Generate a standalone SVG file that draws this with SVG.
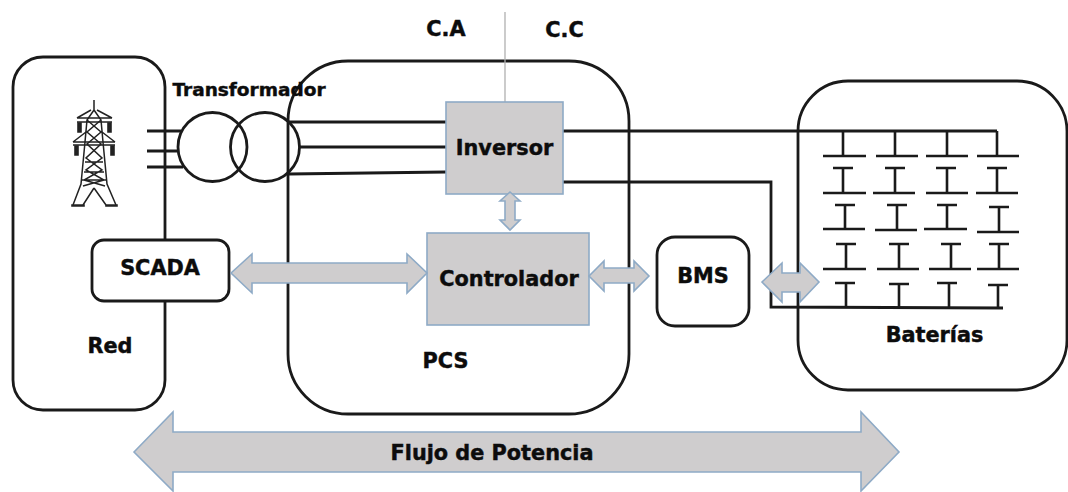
<svg xmlns="http://www.w3.org/2000/svg" width="1068" height="492" viewBox="0 0 1068 492">
<style>
text{font-family:"DejaVu Sans","Liberation Sans",sans-serif;font-weight:700;fill:#0c0c0c;stroke:#0c0c0c;stroke-width:.45;text-anchor:middle;font-size:20.8px}
.s{font-size:18.500px}
.box{fill:#fff;stroke:#1a1a1a;stroke-width:2.8}
.frame{fill:none;stroke:#1a1a1a;stroke-width:2.8}
.block{fill:#cfcdce;stroke:#8eaac6;stroke-width:1.6}
.arrow{fill:#cfcdce;stroke:#8eaac6;stroke-width:1.6;stroke-linejoin:miter}
.w{fill:none;stroke:#1a1a1a;stroke-width:2.8}
.c{fill:none;stroke:#1a1a1a;stroke-width:2.6}
.tw{fill:none;stroke:#222;stroke-width:1.5}
.tw2{fill:#222;stroke:#222;stroke-width:1.6}
</style>
<g id="red"><rect class="frame" x="13" y="57" width="152" height="353" rx="30"/><text x="110" y="353">Red</text></g>
<g id="pcs"><rect class="frame" x="288" y="61" width="341" height="353" rx="60"/><text x="445.500" y="368">PCS</text></g>
<g id="baterias"><rect class="frame" x="798" y="81" width="269" height="309" rx="50"/><text x="934.500" y="342">Baterías</text></g>
<g id="torre">
<path class="tw" d="M94 100V110M94 110L87 120L85 142L81 184L73 205M94 110L101 120L103 142L107 184L116 205M94 188L83 205M94 188L106 205M87 120L101 132L87 144L102 158L86 170L104 180L83 186M101 120L87 132L101 144L86 158L102 170L84 180L105 186M85 162H103M84 172H104M82 180H106"/>
<path class="tw" d="M77 118L91 110M112 118L97 110M77 118H112M77 122H112M73 142L86 132M115 142L102 132M73 142H115M73 145H115"/>
<path class="tw2" d="M78 123h3v9h-3zM108 123h3v9h-3zM75 146h3v9h-3zM111 146h3v9h-3z"/>
<path class="tw2" d="M72 205h12v1h-12zM106 205h11v1h-11z"/>
</g>
<g id="connectors">
<path class="c" d="M505 12V102" style="stroke:#b0b0b0;stroke-width:1.3"/>
<path class="w" d="M147 131H181M147 151H178M147 167H183M289 122H446M300 147H446M289 174L446 172"/>
<path class="w" d="M563 131H997M563 182H771V307L1003 308"/>
<path class="c" d="M843 131V156M895 131V156M947 131V156M997 131V156"/>
<path class="c" d="M823 156H866M876 156H918M926 156H968M977 156H1019"/>
<path class="c" d="M833 168H853M885 168H905M936 168H956M987 168H1007M843 168V193M895 168V193M947 168V193M997 168V193"/>
<path class="c" d="M823 193H866M873 193H915M926 193H968M976 193H1018"/>
<path class="c" d="M835 205H855M887 205H907M937 205H957M989 207H1009M845 205V229M897 205V230M947 205V229M999 207V232"/>
<path class="c" d="M823 229H865M875 230H917M924 229H967M977 232H1019"/>
<path class="c" d="M836 244H856M889 244H909M941 244H961M989 244H1009M846 244V269M899 244V269M951 244V269M999 244V269"/>
<path class="c" d="M823 269H866M877 269H919M929 269H971M977 269H1019"/>
<path class="c" d="M835 283H855M889 284H909M937 283H957M988 285H1008M846 283V307M899 284V307M949 283V307M998 285V308"/>
</g>
<g id="transformador">
<circle class="frame" cx="212.500" cy="147" r="34.500"/><circle class="frame" cx="265" cy="147" r="34.500"/>
<text class="s" x="249" y="96">Transformador</text>
</g>
<g id="inversor"><rect class="block" x="446" y="102" width="117" height="92"/><text x="504.500" y="155">Inversor</text></g>
<g id="controlador"><rect class="block" x="427" y="233" width="162" height="92"/><text x="509" y="286">Controlador</text></g>
<g id="scada"><rect class="box" x="92" y="240" width="137" height="61" rx="12"/><text x="160" y="275">SCADA</text></g>
<g id="bms"><rect class="box" x="657" y="237" width="92" height="89" rx="18"/><text x="703" y="283">BMS</text></g>
<g id="flechas">
<path class="arrow" d="M231 273L252 254V263H407V254L427 273L407 293V283H252V293Z"/>
<path class="arrow" d="M589 276L604 261V268H634V261L649 276L634 291V283H604V291Z"/>
<path class="arrow" d="M510 192L520 201H515V220H520L510 230L500 220H505V201H500Z"/>
<path class="arrow" d="M762 282L782 263V273H800V263L819 282L800 302V292H782V302Z"/>
<path class="arrow" d="M134 452L173 412V432H861V412L899 452L861 491V472H173V491Z"/>
</g>
<text x="492" y="460">Flujo de Potencia</text>
<text x="446" y="36">C.A</text>
<text x="564.500" y="37">C.C</text>
</svg>
